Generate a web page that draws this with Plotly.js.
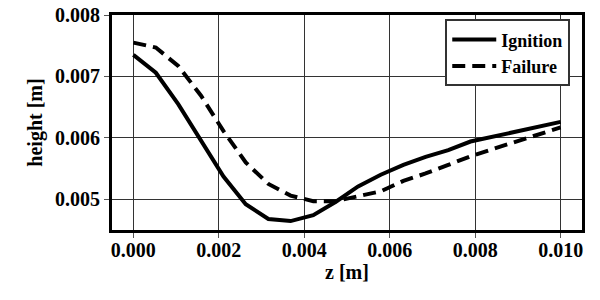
<!DOCTYPE html>
<html>
<head>
<meta charset="utf-8">
<script src="https://cdn.plot.ly/plotly-3.0.1.min.js"></script>
<style>
  html, body { margin: 0; padding: 0; background: #fff; }
  #chart { width: 600px; height: 300px; }
</style>
</head>
<body>
<div id="chart"></div>
<script>
// z positions (20 stations from 0 to 0.01 m)
const zValues = [0, 0.000526, 0.00105, 0.00158, 0.00211, 0.00263, 0.00316, 0.00368, 0.00421, 0.00474,
                 0.00526, 0.00579, 0.00632, 0.00684, 0.00737, 0.00789, 0.00842, 0.00895, 0.00947, 0.01];

const ignitionHeight = [0.00735, 0.00706, 0.00655, 0.00597, 0.00537, 0.00492, 0.00468, 0.004645, 0.00474, 0.00496,
                        0.00521, 0.00540, 0.00556, 0.00569, 0.00580, 0.00594, 0.00602, 0.00610, 0.00617, 0.00626];

const failureHeight = [0.00755, 0.00747, 0.00717, 0.00669, 0.00611, 0.00560, 0.00525, 0.00506, 0.00497, 0.00497,
                       0.00505, 0.00513, 0.00530, 0.00542, 0.00556, 0.00570, 0.00582, 0.00594, 0.00605, 0.00617];

const xTicks = [0, 0.002, 0.004, 0.006, 0.008, 0.010];
const xTickLabels = ['0.000', '0.002', '0.004', '0.006', '0.008', '0.010'];
const yTicks = [0.005, 0.006, 0.007, 0.008];
const yTickLabels = ['0.005', '0.006', '0.007', '0.008'];

const FONT = { family: 'Liberation Serif', color: '#000', weight: 'bold' };

function buildTrace(name, values, dash) {
    return {
        x: zValues,
        y: values,
        name,
        mode: 'lines',
        type: 'scatter',
        line: { color: '#000', width: 4, dash }
    };
}

function buildAxis(title, range, ticks, labels, labelShift, standoff) {
    return {
        title: { text: title, font: { ...FONT, size: 20 }, standoff },
        range,
        tickmode: 'array',
        tickvals: ticks,
        ticktext: labels,
        tickfont: { ...FONT, size: 20 },
        ticklabelstandoff: labelShift,
        ticks: 'outside',
        ticklen: 5,
        tickwidth: 1,
        tickcolor: '#555',
        showgrid: true,
        gridcolor: '#333',
        gridwidth: 1,
        showline: true,
        linecolor: '#000',
        linewidth: 3,
        mirror: true,
        zeroline: false
    };
}

const traces = [
    buildTrace('Ignition', ignitionHeight, 'solid'),
    buildTrace('Failure', failureHeight, '13px,7px')
];

const layout = {
    width: 600,
    height: 300,
    margin: { l: 112, r: 18, t: 15, b: 70 },
    paper_bgcolor: '#fff',
    plot_bgcolor: '#fff',
    xaxis: buildAxis('z [m]', [-0.0005, 0.0105], xTicks, xTickLabels, -5, 2),
    yaxis: buildAxis('height [m]', [0.0045, 0.008], yTicks, yTickLabels, 0, 8),
    showlegend: true,
    legend: {
        x: 0.975,
        y: 0.98,
        xanchor: 'right',
        yanchor: 'top',
        bgcolor: '#fff',
        bordercolor: '#333',
        borderwidth: 2,
        itemwidth: 44,
        font: { ...FONT, size: 18 },
        tracegroupgap: 0
    }
};

Plotly.newPlot('chart', traces, layout, { displayModeBar: false, staticPlot: true });
</script>
</body>
</html>
